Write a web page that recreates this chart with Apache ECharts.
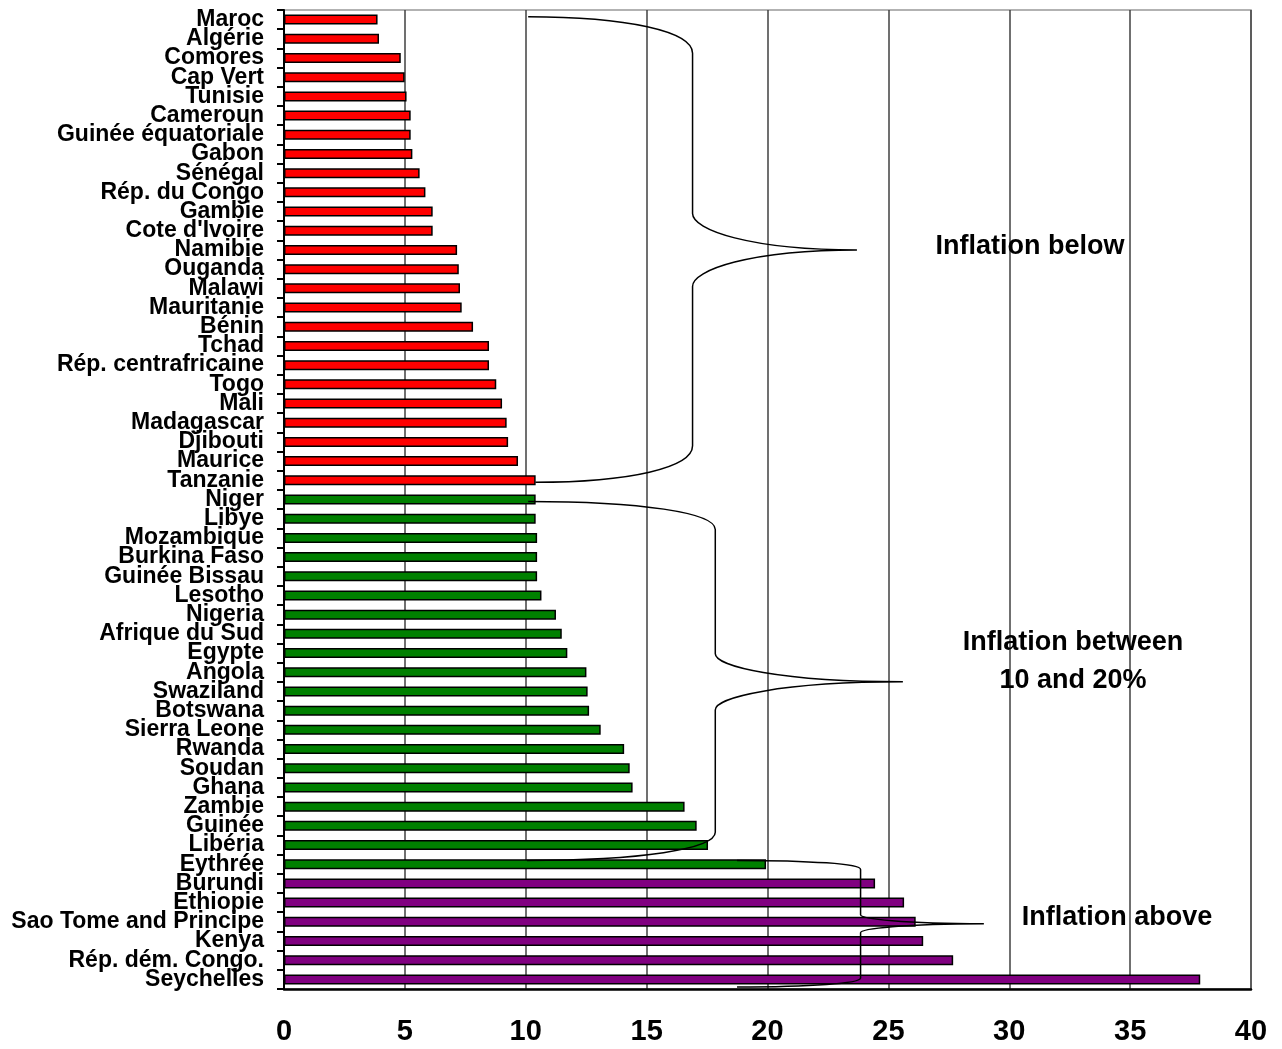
<!DOCTYPE html>
<html>
<head>
<meta charset="utf-8">
<script src="https://cdn.jsdelivr.net/npm/echarts@6/dist/echarts.min.js"></script>
<style>html,body{margin:0;padding:0;background:#fff}#c{width:1282px;height:1049px}</style>
</head>
<body>
<div id="c"></div>
<script>
// ---- Data ----
const countriesBelow = ["Maroc","Algérie","Comores","Cap Vert","Tunisie","Cameroun","Guinée équatoriale","Gabon","Sénégal","Rép. du Congo","Gambie","Cote d'Ivoire","Namibie","Ouganda","Malawi","Mauritanie","Bénin","Tchad","Rép. centrafricaine","Togo","Mali","Madagascar","Djibouti","Maurice","Tanzanie"];
const valuesBelow = [3.87,3.93,4.83,4.99,5.07,5.24,5.24,5.31,5.61,5.85,6.15,6.15,7.16,7.23,7.28,7.35,7.82,8.48,8.48,8.78,9.02,9.21,9.27,9.68,10.41];
const countriesBetween = ["Niger","Libye","Mozambique","Burkina Faso","Guinée Bissau","Lesotho","Nigeria","Afrique du Sud","Egypte","Angola","Swaziland","Botswana","Sierra Leone","Rwanda","Soudan","Ghana","Zambie","Guinée","Libéria","Eythrée"];
const valuesBetween = [10.41,10.41,10.47,10.47,10.47,10.65,11.25,11.49,11.72,12.51,12.56,12.62,13.1,14.07,14.3,14.42,16.57,17.07,17.54,19.94];
const countriesAbove = ["Burundi","Ethiopie","Sao Tome and Principe","Kenya","Rép. dém. Congo.","Seychelles"];
const valuesAbove = [24.45,25.65,26.13,26.44,27.68,37.9];
const xTicks = [0,5,10,15,20,25,30,35,40];
// braces: [xStart, xEnd, xSpine, xTip, catTop, catTip, catBottom, radius(in categories)]
const braceBelow = [10.1, 10.4, 16.9, 23.7, -0.15, 12.0, 24.1, 1.9];
const braceBetween = [10.1, 10.05, 17.84, 25.6, 25.1, 34.5, 43.8, 1.46];
const braceAbove = [18.74, 18.74, 23.85, 28.95, 43.8, 47.1, 50.4, 0.47];
const groupLabels = ["Inflation below", "Inflation between\n10 and 20%", "Inflation above"];

// ---- Build ----
const colors = ['#FF0000', '#008000', '#800080'];
const categories = countriesBelow.concat(countriesBetween, countriesAbove);
const barData = [];
[[valuesBelow,0],[valuesBetween,1],[valuesAbove,2]].forEach(([arr,g]) => {
  arr.forEach(v => barData.push({value: v, itemStyle: {color: colors[g]}}));
});
const FONT = "'Liberation Sans Narrow','Arial Narrow','Liberation Sans',Arial,sans-serif";

const chart = echarts.init(document.getElementById('c'), null, {renderer: 'canvas'});
chart.setOption({
  animation: false,
  backgroundColor: '#fff',
  grid: {left: 284, right: 31, top: 10, bottom: 60, containLabel: false, outerBoundsMode: 'none',
    show: true, borderColor: '#999', borderWidth: 1.5},
  xAxis: {
    type: 'value', min: 0, max: 40, interval: 5,
    axisLine: {show: true, lineStyle: {color: '#000', width: 2.5}},
    axisTick: {show: false},
    splitLine: {show: true, lineStyle: {color: '#404040', width: 1.5}},
    axisLabel: {margin: 28, fontFamily: FONT, fontWeight: 'bold', fontSize: 29, color: '#000',
      formatter: v => xTicks.indexOf(v) >= 0 ? String(v) : ''}
  },
  yAxis: {
    type: 'category', data: categories, inverse: true,
    axisLine: {show: true, lineStyle: {color: '#000', width: 2}},
    axisTick: {show: true, length: 7, lineStyle: {color: '#000', width: 2}},
    splitLine: {show: false},
    axisLabel: {interval: 0, margin: 20, fontFamily: FONT, fontWeight: 'bold', fontSize: 23, color: '#000'}
  },
  series: [
    {
      type: 'bar', data: barData, barWidth: 10,
      itemStyle: {borderColor: '#000', borderWidth: 1.5},
      z: 2
    },
    {
      type: 'custom',
      data: [braceBelow, braceBetween, braceAbove],
      encode: {x: 2, y: 5},
      clip: false,
      z: 3,
      renderItem: function (params, api) {
        const xs = api.coord([api.value(0), 0])[0];
        const xe = api.coord([api.value(1), 0])[0];
        const xS = api.coord([api.value(2), 0])[0];
        const xT = api.coord([api.value(3), 0])[0];
        const y0 = api.coord([0, 0])[1], y1 = api.coord([0, 1])[1];
        const cy = c => y0 + c * (y1 - y0);
        const yT = cy(api.value(4)), yM = cy(api.value(5)), yB = cy(api.value(6));
        const r = api.value(7) * (y1 - y0);
        const p = [
          'M', xs, yT,
          'C', xs + (xS - xs) * 0.6, yT, xS, yT + r * 0.4, xS, yT + r,
          'L', xS, yM - r,
          'C', xS, yM - r * 0.55, xS + (xT - xS) * 0.35, yM, xT, yM,
          'C', xS + (xT - xS) * 0.35, yM, xS, yM + r * 0.55, xS, yM + r,
          'L', xS, yB - r,
          'C', xS, yB - r * 0.4, xe + (xS - xe) * 0.6, yB, xe, yB
        ].join(' ');
        return {type: 'path', shape: {pathData: p}, style: {fill: null, stroke: '#000', lineWidth: 1.5}};
      }
    }
  ],
  graphic: [
    {type: 'text', x: 1030, y: 247, style: {text: groupLabels[0], align: 'center', verticalAlign: 'middle', font: 'bold 27px ' + FONT, fill: '#000'}, z: 10},
    {type: 'text', x: 1073, y: 662, style: {text: groupLabels[1], align: 'center', verticalAlign: 'middle', lineHeight: 38, font: 'bold 27px ' + FONT, fill: '#000'}, z: 10},
    {type: 'text', x: 1117, y: 918, style: {text: groupLabels[2], align: 'center', verticalAlign: 'middle', font: 'bold 27px ' + FONT, fill: '#000'}, z: 10}
  ]
});
</script>
</body>
</html>
